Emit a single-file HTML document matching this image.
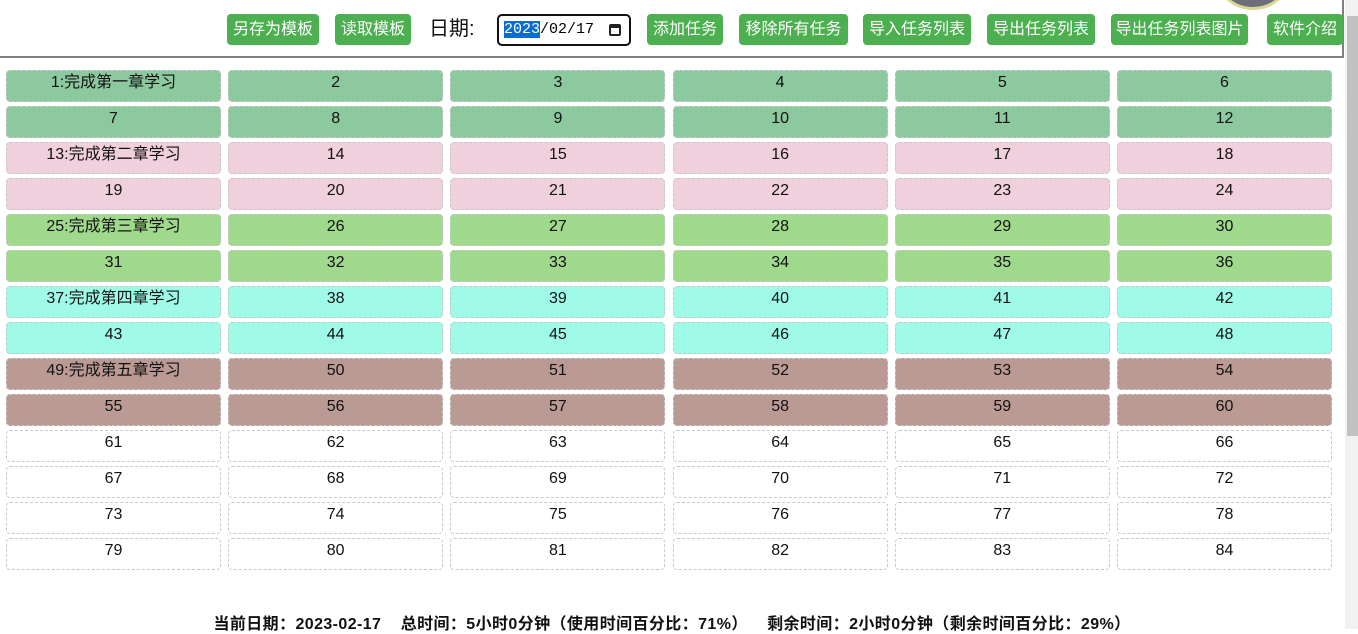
<!DOCTYPE html>
<html><head><meta charset="utf-8"><style>
*{box-sizing:border-box}
body{margin:0;width:1358px;height:629px;overflow:hidden;background:#fff;font-family:"Liberation Sans","Microsoft YaHei","Noto Sans CJK SC",sans-serif;position:relative}
#hdr{position:absolute;left:0;top:0;width:1344px;height:58px;border-right:2px solid #808080;border-bottom:2px solid #808080}
.btn{position:absolute;top:14px;height:31px;background:#4caf50;color:#fff;border-radius:4px;font-size:16px;line-height:31px;text-align:center;white-space:nowrap}
#lbl{position:absolute;left:429px;top:15px;font-size:20px;line-height:28px;color:#111}
#date{position:absolute;left:497px;top:14px;width:134px;height:32px;border:2px solid #111;border-radius:5px;font-family:"Liberation Mono",monospace;font-size:15px;line-height:28px;padding-left:5px}
#date .sel{background:#0a6ed1;color:#fff}
#cal{position:absolute;right:8px;top:8px;width:12px;height:12px;border:2px solid #222;border-top-width:4px;border-radius:2px}
.cell{position:absolute;height:32px;border:1px dashed #c8c8c8;border-radius:4px;font-size:16px;text-align:center;line-height:24px;color:#111}
#foot{position:absolute;left:0;width:1344px;top:610px;text-align:center;font-size:16px;letter-spacing:0.4px;font-weight:bold;color:#111;white-space:pre}
#sb{position:absolute;left:1345px;top:0;width:13px;height:629px;background:#f1f1f1}
#thumb{position:absolute;left:1347px;top:16px;width:11px;height:420px;background:#c1c1c1}
#circ{position:absolute;left:1213px;top:-70px;width:80px;height:80px;border-radius:50%;background:#6d6f78;border:3px solid #d8d890}
</style></head><body>
<div id="hdr">
<div class="btn" style="left:227px;width:92px">另存为模板</div>
<div class="btn" style="left:335px;width:76px">读取模板</div>
<div id="lbl">日期:</div>
<div id="date"><span class="sel">2023</span>/02/17<span id="cal"></span></div>
<div class="btn" style="left:647px;width:76px">添加任务</div>
<div class="btn" style="left:739px;width:109px">移除所有任务</div>
<div class="btn" style="left:863px;width:108px">导入任务列表</div>
<div class="btn" style="left:987px;width:108px">导出任务列表</div>
<div class="btn" style="left:1111px;width:137px">导出任务列表图片</div>
<div class="btn" style="left:1267px;width:76px">软件介绍</div>
</div>
<div id="circ"></div>
<div id="grid"></div>
<div id="foot">当前日期：2023-02-17    总时间：5小时0分钟（使用时间百分比：71%）    剩余时间：2小时0分钟（剩余时间百分比：29%）</div>
<div id="sb"></div>
<div id="thumb"></div>
<script>
const cellCount = 84;
const columns = 6;
const groupColors = ["#8cc99e","#f0d0dc","#9fd98c","#9ffbe8","#bc9a94"];
const groupLabels = ["完成第一章学习","完成第二章学习","完成第三章学习","完成第四章学习","完成第五章学习"];
const cellsPerGroup = 12;
const grid = document.getElementById('grid');
for (let i = 0; i < cellCount; i++) {
  const n = i + 1;
  const r = Math.floor(i / columns), c = i % columns;
  const el = document.createElement('div');
  el.className = 'cell';
  el.style.left = (6 + c * 222.2) + 'px';
  el.style.top = (70 + r * 36) + 'px';
  el.style.width = '215px';
  const g = Math.floor(i / cellsPerGroup);
  if (g < groupColors.length) el.style.background = groupColors[g];
  el.textContent = (g < groupLabels.length && i % cellsPerGroup === 0) ? n + ':' + groupLabels[g] : String(n);
  
  
  grid.appendChild(el);
}
</script>
</body></html>
